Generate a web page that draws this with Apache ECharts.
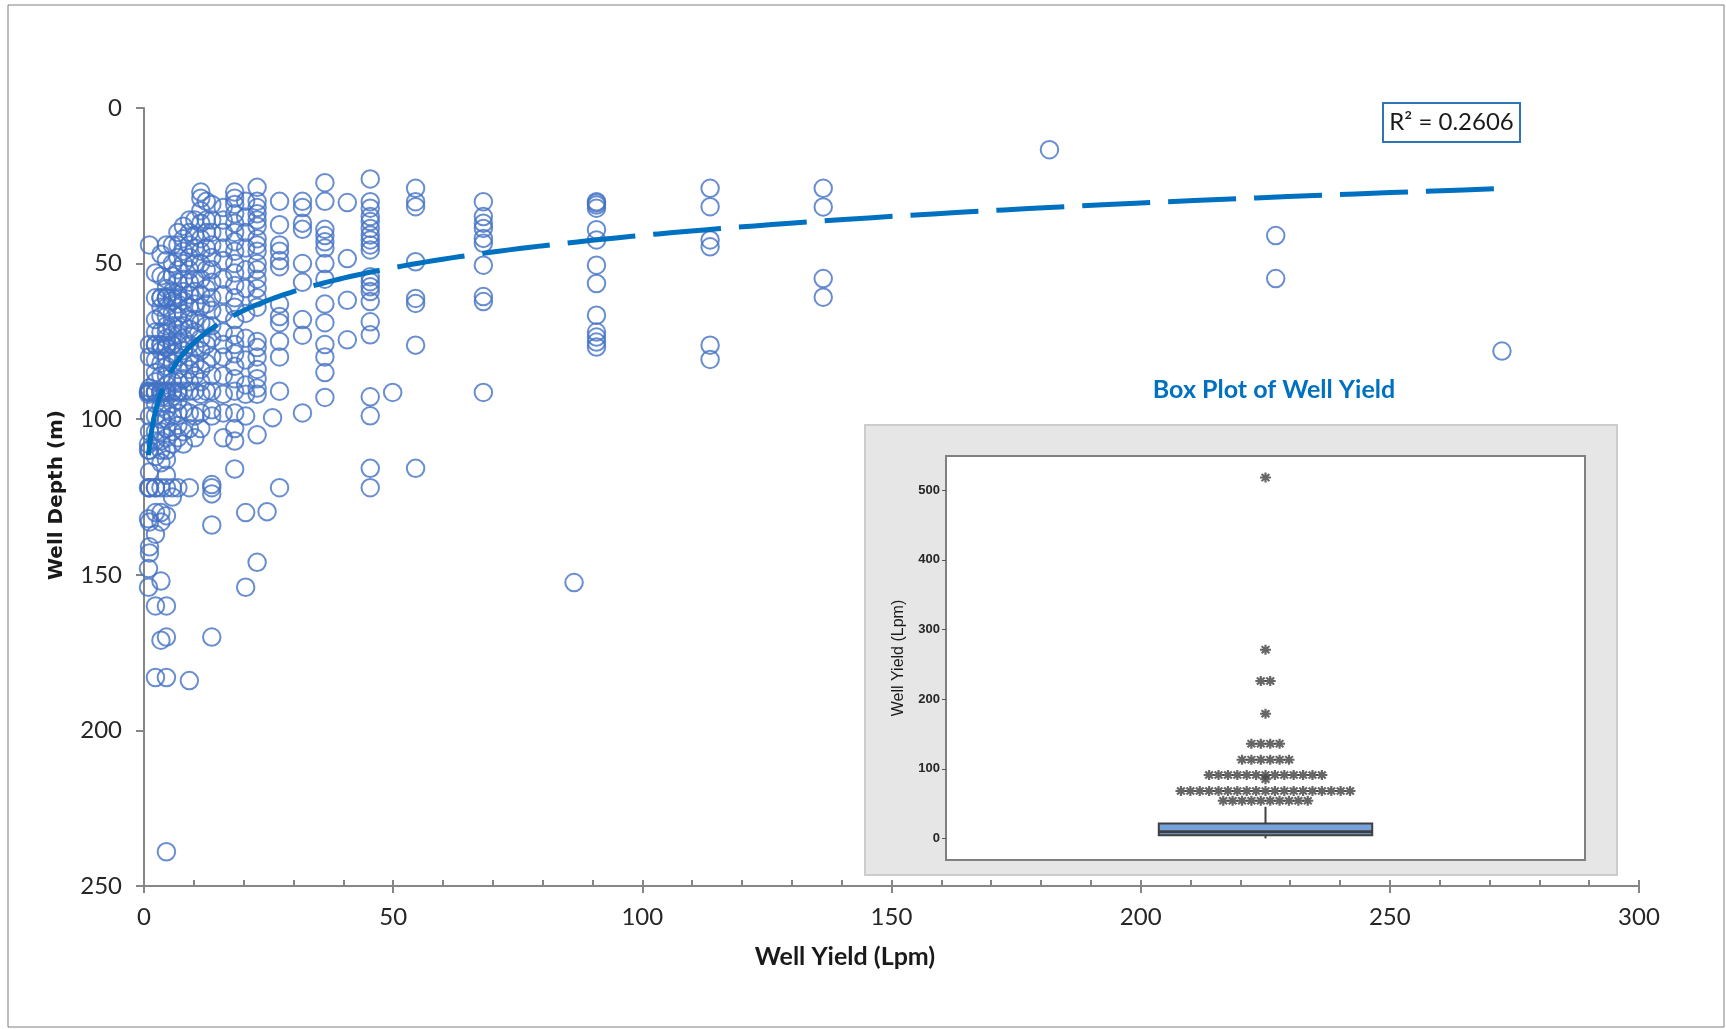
<!DOCTYPE html>
<html>
<head>
<meta charset="utf-8">
<title>Well Depth vs Well Yield</title>
<script src="https://cdn.jsdelivr.net/npm/echarts@6/dist/echarts.min.js"></script>
<style>
  html, body { margin: 0; padding: 0; background: #fff; }
  #chart { width: 1726px; height: 1029px; }
</style>
</head>
<body>
<div id="chart"></div>
<script>
// well yield columns (Lpm) and the depths (m) read at each one
const yieldColumns = [0.9, 1.1, 2.3, 3.4, 4.5, 5.7, 6.8, 7.9, 9.1, 10.2, 11.4, 12.5, 13.6, 15.9, 18.2, 20.4, 22.7,
    24.7, 25.8, 27.2, 31.8, 36.3, 40.8, 45.4, 49.9, 54.5, 68.1, 86.3, 90.8, 113.6, 136.3, 181.7, 227.1, 272.5]
const depthColumns = [
    [91, 91.4, 92, 108, 110, 122, 132, 148, 154],
    [44, 76, 80, 90, 91, 91.4, 99, 104, 110, 117, 122, 122, 133, 141, 143],
    [53, 61, 68, 72, 76, 76.2, 81, 85, 88, 91, 91.4, 91.4, 95, 99, 104, 107, 112, 122, 122, 130, 137, 160, 183],
    [47, 54, 61, 61, 64, 67, 72, 76, 76.2, 78, 82, 86, 91, 91.4, 91.4, 93, 96, 100, 104, 107, 110, 114, 122, 130, 133, 152, 171],
    [44, 49, 55, 58, 61, 61, 61, 64, 67, 70, 72, 74, 76.2, 77, 80, 83, 86, 89, 91, 91.4, 93, 97, 100, 103, 106, 110, 113, 118, 122, 131, 160, 170, 183, 239],
    [44, 50, 54, 59, 61, 62, 66, 70, 73, 76, 76.2, 79, 82, 88, 91, 91.4, 95, 99, 104, 108, 122, 125],
    [40, 44, 48, 52, 56, 60, 61, 63, 67, 70, 73, 76, 80, 84, 88, 91, 91.4, 94, 98, 102, 106, 122],
    [38, 42, 46, 50, 55, 59, 62, 66, 70, 74, 78, 82, 87, 91, 97, 104, 108],
    [36, 40, 44, 48, 52, 56, 60, 64, 68, 71, 76, 80, 84, 88, 91, 98, 103, 122, 184],
    [36, 41, 45, 50, 55, 59, 63, 68, 72, 77, 82, 86, 91, 99, 106],
    [27, 29, 33, 37, 42, 46, 50, 55, 60, 64, 69, 74, 78, 84, 88, 92, 98, 103],
    [30, 36, 40, 45, 52, 58, 63, 70, 76, 82, 91],
    [31, 36, 40, 44, 48, 52, 56, 61, 65, 70, 74, 80, 86, 91, 97, 99, 121, 122, 124, 134, 170],
    [32, 36, 40, 45, 49, 55, 60, 66, 72, 76, 80, 86, 92, 98, 106],
    [27, 29, 31, 34, 37, 40, 43, 46, 50, 53, 57, 61, 64, 68, 73, 76, 79, 83, 87, 91, 98, 103, 107, 116],
    [30, 35, 40, 45, 52, 58, 66, 74, 81, 89, 92, 99, 130, 154],
    [25.5, 30, 32, 34, 36, 38, 42, 44, 46, 50, 52, 55, 58, 61, 64, 75, 77, 80, 84, 87, 90, 92, 105, 146],
    [129.7],
    [99.5],
    [30, 37.5, 44, 46, 49, 51, 63, 67, 69, 75, 80, 91, 122],
    [30, 32, 37, 39, 50, 56, 68, 73, 98],
    [24, 30, 39, 41, 43, 45, 50, 55, 63, 69, 76, 80, 85, 93],
    [30.4, 48.4, 61.8, 74.5],
    [22.8, 30.1, 32.2, 34.9, 36.5, 38.7, 40.8, 42.4, 44, 45.6, 54.2, 55.8, 57.4, 59, 62.2, 68.7, 72.9, 92.8, 98.9, 115.8, 122],
    [91.4],
    [25.8, 30.1, 31.7, 49.4, 61.2, 62.8, 76.2, 115.8],
    [30.1, 34.9, 37, 38.7, 41.9, 43.5, 50.5, 60.6, 62.2, 91.4],
    [152.5],
    [30.1, 30.5, 31.2, 32.2, 39.1, 42.4, 50.5, 56.4, 66.6, 72, 73.6, 75.2, 76.8],
    [25.8, 31.7, 42.4, 44.6, 76.2, 80.8],
    [25.8, 31.8, 54.8, 60.8],
    [13.4],
    [41, 54.8],
    [78.1]
]
const xTicks = [0, 50, 100, 150, 200, 250, 300]
const yTicks = [0, 50, 100, 150, 200, 250]
const rSquaredText = 'R² = 0.2606'
// Excel log trendline as drawn: depth = a + b * ln(yield)
const TREND_A = 110
const TREND_B = -15

// box plot of well yield (Lpm): min, Q1, median, Q3, whisker top
const boxStats = [0, 4.7, 9.5, 21.5, 45.4]
const outlierValues = [518, 271, 226, 179, 136, 113, 91, 85, 68, 54]
const outlierCounts = [1, 1, 2, 1, 4, 6, 13, 1, 19, 10]
const boxTicks = [0, 100, 200, 300, 400, 500]

const BLUE = '#0070C0'
const DOT = '#4472C4'
const AXIS = '#868686'
const BOX_HALF = 0.334
const STAR_STEP = 0.0294
const STAR = 'path://M-1,-5L1,-5L1,5L-1,5Z M-5,-1L5,-1L5,1L-5,1Z M-2.83,-4.24L4.24,2.83L2.83,4.24L-4.24,-2.83Z M-4.24,2.83L2.83,-4.24L4.24,-2.83L-2.83,4.24Z'

const points = []
yieldColumns.forEach((x, i) => {
    depthColumns[i].forEach(d => points.push([x, d]))
})

const xMin = Math.min(...yieldColumns)
const xMax = Math.max(...yieldColumns)
const trend = []
for (let k = 0; k <= 200; k++) {
    const x = xMin * Math.pow(xMax / xMin, k / 200)
    trend.push([x, TREND_A + TREND_B * Math.log(x)])
}

const stars = []
outlierValues.forEach((v, i) => {
    const n = outlierCounts[i]
    for (let j = 0; j < n; j++) stars.push([(j - (n - 1) / 2) * STAR_STEP, v])
})

const chart = echarts.init(document.getElementById('chart'), null, { renderer: 'canvas' })

const option = {
    animation: false,
    textStyle: { fontFamily: 'Lato, sans-serif' },
    grid: [
        { left: 144, top: 108, width: 1495, height: 778, outerBoundsMode: 'none' },
        { left: 946, top: 456, width: 639, height: 404, show: true, backgroundColor: '#ffffff',
          borderColor: '#808080', borderWidth: 2, outerBoundsMode: 'none' }
    ],
    xAxis: [
        {
            gridIndex: 0, type: 'value', position: 'bottom', min: xTicks[0], max: xTicks[xTicks.length - 1], interval: 50,
            axisLine: { onZero: false, lineStyle: { color: AXIS, width: 2 } },
            axisTick: { length: 7, lineStyle: { color: AXIS, width: 2 } },
            axisLabel: { fontSize: 24, color: '#262626', margin: 19 },
            splitLine: { show: false }
        },
        {
            gridIndex: 0, type: 'value', position: 'bottom', min: 0, max: 300, interval: 10,
            axisLine: { show: false, onZero: false },
            axisTick: { inside: true, length: 6, lineStyle: { color: AXIS, width: 2 } },
            axisLabel: { show: false },
            splitLine: { show: false }
        },
        {
            gridIndex: 1, type: 'value', min: -1, max: 1, show: false
        }
    ],
    yAxis: [
        {
            gridIndex: 0, type: 'value', inverse: true, min: yTicks[0], max: yTicks[yTicks.length - 1], interval: 50,
            axisLine: { onZero: false, lineStyle: { color: AXIS, width: 2 } },
            axisTick: { length: 8, lineStyle: { color: AXIS, width: 2 } },
            axisLabel: { fontSize: 24, color: '#262626', margin: 22 },
            splitLine: { show: false }
        },
        {
            gridIndex: 1, type: 'value', position: 'left', min: -31, max: 549,
            axisLine: { show: false, onZero: false },
            axisTick: { customValues: boxTicks, length: 4, lineStyle: { color: '#555', width: 1 } },
            axisLabel: { customValues: boxTicks, fontSize: 13, fontWeight: 'bold', color: '#262626', margin: 6,
                         fontFamily: 'Liberation Sans, Arial, sans-serif' },
            splitLine: { show: false }
        }
    ],
    series: [
        {
            type: 'scatter', xAxisIndex: 0, yAxisIndex: 0, silent: true,
            symbol: 'circle', symbolSize: 17.5,
            itemStyle: { color: 'rgba(0,0,0,0)', borderColor: DOT, borderWidth: 2 },
            data: points
        },
        {
            type: 'line', xAxisIndex: 0, yAxisIndex: 0, silent: true, showSymbol: false,
            lineStyle: { color: BLUE, width: 5, type: [68, 18] },
            data: trend
        },
        {
            type: 'custom', xAxisIndex: 2, yAxisIndex: 1, silent: true,
            encode: { x: 0, y: [1, 2, 3, 4, 5] },
            data: [[0].concat(boxStats)],
            renderItem: function (params, api) {
                const lo = api.coord([0, api.value(1)])
                const q1 = api.coord([-BOX_HALF, api.value(2)])
                const med = api.coord([-BOX_HALF, api.value(3)])
                const q3 = api.coord([BOX_HALF, api.value(4)])
                const hi = api.coord([0, api.value(5)])
                const line = { stroke: '#404040', lineWidth: 2 }
                return {
                    type: 'group',
                    children: [
                        { type: 'line', shape: { x1: lo[0], y1: lo[1], x2: lo[0], y2: q1[1] }, style: line },
                        { type: 'line', shape: { x1: hi[0], y1: hi[1], x2: hi[0], y2: q3[1] }, style: line },
                        { type: 'rect', shape: { x: q1[0], y: q3[1], width: q3[0] - q1[0], height: q1[1] - q3[1] },
                          style: { fill: '#76a3dc', stroke: '#404040', lineWidth: 2 } },
                        { type: 'line', shape: { x1: med[0], y1: med[1], x2: q3[0], y2: med[1] },
                          style: { stroke: '#404040', lineWidth: 3 } }
                    ]
                }
            }
        },
        {
            type: 'scatter', xAxisIndex: 2, yAxisIndex: 1, silent: true,
            symbol: STAR, symbolSize: [11, 10],
            itemStyle: { color: '#404040' },
            data: stars
        }
    ],
    graphic: [
        { type: 'rect', z: -1, shape: { x: 8, y: 5, width: 1716, height: 1022 },
          style: { fill: 'none', stroke: '#7f7f7f', lineWidth: 1 } },
        { type: 'rect', z: -1, shape: { x: 865, y: 425, width: 752, height: 450 },
          style: { fill: '#e6e6e6', stroke: '#cccccc', lineWidth: 2 } },
        { type: 'rect', z: 10, shape: { x: 1383, y: 103, width: 137, height: 39 },
          style: { fill: '#ffffff', stroke: '#2e75b6', lineWidth: 2 } },
        { type: 'text', z: 11, x: 1451.5, y: 122.5,
          style: { text: rSquaredText, font: '24px Lato, sans-serif', fill: '#1a1a1a', align: 'center', verticalAlign: 'middle' } },
        { type: 'text', z: 11, x: 1274, y: 390,
          style: { text: 'Box Plot of Well Yield', font: 'bold 25px Lato, sans-serif', fill: BLUE, align: 'center', verticalAlign: 'middle' } },
        { type: 'text', z: 11, x: 845, y: 957,
          style: { text: 'Well Yield (Lpm)', font: 'bold 25px Lato, sans-serif', fill: '#1a1a1a', align: 'center', verticalAlign: 'middle' } },
        { type: 'text', z: 11, x: 57, y: 495, rotation: Math.PI / 2,
          style: { text: 'Well Depth (m)', font: 'bold 20px "DejaVu Sans", sans-serif', fill: '#1a1a1a', align: 'center', verticalAlign: 'middle' } },
        { type: 'text', z: 11, x: 899, y: 658, rotation: Math.PI / 2,
          style: { text: 'Well Yield (Lpm)', font: '16px "Liberation Sans", Arial, sans-serif', fill: '#1a1a1a', align: 'center', verticalAlign: 'middle' } }
    ]
}

chart.setOption(option)
</script>
</body>
</html>
